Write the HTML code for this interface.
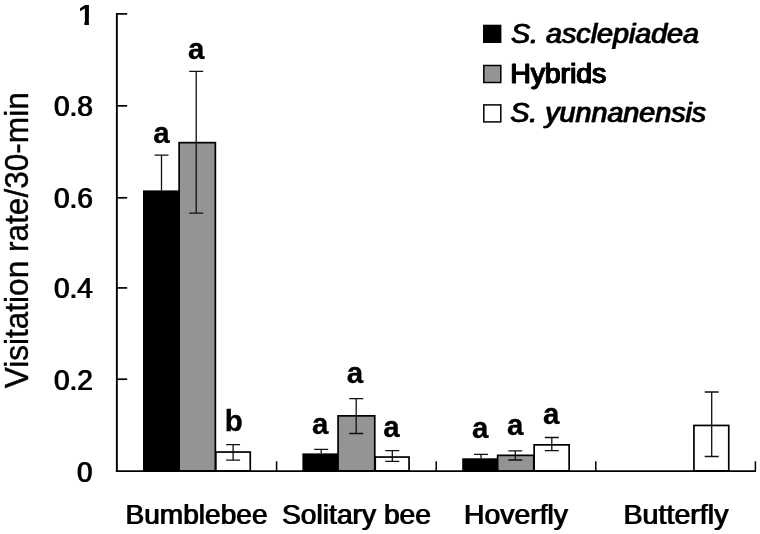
<!DOCTYPE html>
<html><head><meta charset="utf-8"><title>Visitation rate</title>
<style>
html,body{margin:0;padding:0;background:#fff;}
body{width:760px;height:534px;overflow:hidden;}
svg{display:block;}
text{font-family:"Liberation Sans",Arial,sans-serif;fill:#000;}
.t{font-size:29px;stroke:#000;stroke-width:0.12px;filter:url(#f0);}
.xl{font-size:28px;stroke:#000;stroke-width:0.1px;filter:url(#f0);}
.li{font-size:28.5px;stroke:#000;stroke-width:0.3px;filter:url(#f1);font-style:italic;}
.lg{font-size:28.5px;stroke:#000;stroke-width:0.5px;filter:url(#f2);}
.b{font-size:29.5px;font-weight:bold;stroke:#000;stroke-width:0.3px;}
.i{font-style:italic;}
.b1{font-size:29.5px;font-weight:bold;}
.e{stroke:#111;stroke-width:1.3;fill:none;}
</style></head><body>
<svg width="760" height="534" viewBox="0 0 760 534">
<defs>
<filter id="f0" x="-5%" y="-20%" width="110%" height="140%"><feOffset in="SourceGraphic" dx="0.55" dy="0" result="o"/><feMerge><feMergeNode in="SourceGraphic"/><feMergeNode in="o"/></feMerge></filter>
<filter id="f1" x="-5%" y="-20%" width="110%" height="140%"><feOffset in="SourceGraphic" dx="0.8" dy="0" result="o"/><feMerge><feMergeNode in="SourceGraphic"/><feMergeNode in="o"/></feMerge></filter>
<filter id="f2" x="-5%" y="-20%" width="110%" height="140%"><feOffset in="SourceGraphic" dx="0.7" dy="0" result="o"/><feOffset in="SourceGraphic" dx="1.4" dy="0" result="p"/><feMerge><feMergeNode in="SourceGraphic"/><feMergeNode in="o"/><feMergeNode in="p"/></feMerge></filter>
</defs>
<rect x="0" y="0" width="760" height="534" fill="#fff"/>
<rect x="143.0" y="190.4" width="36.0" height="280.6" fill="#000"/>
<rect x="179.15" y="142.65" width="36.20" height="328.35" fill="#949494" stroke="#000" stroke-width="1.7"/>
<rect x="215.85" y="452.05" width="34.40" height="18.95" fill="#fff" stroke="#000" stroke-width="1.7"/>
<rect x="302.4" y="453.4" width="35.6" height="17.6" fill="#000"/>
<rect x="338.05" y="415.85" width="36.70" height="55.15" fill="#949494" stroke="#000" stroke-width="1.7"/>
<rect x="375.25" y="457.05" width="33.80" height="13.95" fill="#fff" stroke="#000" stroke-width="1.7"/>
<rect x="462.2" y="458.3" width="35.8" height="12.7" fill="#000"/>
<rect x="497.65" y="455.35" width="36.10" height="15.65" fill="#949494" stroke="#000" stroke-width="1.7"/>
<rect x="534.15" y="444.85" width="35.00" height="26.15" fill="#fff" stroke="#000" stroke-width="1.7"/>
<rect x="693.95" y="425.45" width="34.80" height="45.55" fill="#fff" stroke="#000" stroke-width="1.7"/>
<path class="e" d="M154.5 155.2H168.5M161.5 155.2V190.5"/>
<path class="e" d="M189.2 71.4H203.2M196.2 71.4V213.1M189.2 213.1H203.2"/>
<path class="e" d="M226.1 444.6H240.1M233.1 444.6V460.1M226.1 460.1H240.1"/>
<path class="e" d="M314.2 449.4H328.2M321.2 449.4V453.5"/>
<path class="e" d="M349.2 398.6H363.2M356.2 398.6V433.5M349.2 433.5H363.2"/>
<path class="e" d="M385.3 450.6H399.3M392.3 450.6V461.3M385.3 461.3H399.3"/>
<path class="e" d="M474.0 454.3H488.0M481.0 454.3V458.4"/>
<path class="e" d="M508.29999999999995 450.8H522.3M515.3 450.8V460.0M508.29999999999995 460.0H522.3"/>
<path class="e" d="M544.8 437.5H558.8M551.8 437.5V450.6M544.8 450.6H558.8"/>
<path class="e" d="M704.7 392.0H718.7M711.7 392.0V456.5M704.7 456.5H718.7"/>
<path d="M116.85 13.1V471.5" stroke="#000" stroke-width="1.9" fill="none"/>
<path d="M115.9 471.15H756" stroke="#000" stroke-width="1.8" fill="none"/>
<path d="M117 13.90H127.2" stroke="#000" stroke-width="1.7" fill="none"/>
<path d="M117 105.85H127.2" stroke="#000" stroke-width="1.7" fill="none"/>
<path d="M117 197.80H127.2" stroke="#000" stroke-width="1.7" fill="none"/>
<path d="M117 287.90H127.2" stroke="#000" stroke-width="1.7" fill="none"/>
<path d="M117 379.20H127.2" stroke="#000" stroke-width="1.7" fill="none"/>
<path d="M276.6 461.3V471" stroke="#000" stroke-width="1.5" fill="none"/>
<path d="M436.2 461.3V471" stroke="#000" stroke-width="1.5" fill="none"/>
<path d="M595.8 461.3V471" stroke="#000" stroke-width="1.5" fill="none"/>
<path d="M755.4 461.3V471" stroke="#000" stroke-width="1.5" fill="none"/>
<clipPath id="c1"><rect x="70" y="0" width="30" height="19"/><rect x="84.4" y="18" width="4.5" height="8"/></clipPath>
<text class="b1" x="94.3" y="24.5" text-anchor="end" clip-path="url(#c1)">1</text>
<text class="t" x="53.4" y="116.1" textLength="39" lengthAdjust="spacingAndGlyphs">0.8</text>
<text class="t" x="53.4" y="207.5" textLength="39" lengthAdjust="spacingAndGlyphs">0.6</text>
<text class="t" x="53.4" y="297.5" textLength="39" lengthAdjust="spacingAndGlyphs">0.4</text>
<text class="t" x="53.4" y="389.5" textLength="39" lengthAdjust="spacingAndGlyphs">0.2</text>
<text class="t" x="76.6" y="481.5" textLength="15.5" lengthAdjust="spacingAndGlyphs">0</text>
<text class="xl" x="125.0" y="523.7" textLength="142" lengthAdjust="spacingAndGlyphs">Bumblebee</text>
<text class="xl" x="281.5" y="523.7" textLength="149" lengthAdjust="spacingAndGlyphs">Solitary bee</text>
<text class="xl" x="463.5" y="523.7" textLength="104" lengthAdjust="spacingAndGlyphs">Hoverfly</text>
<text class="xl" x="623.0" y="523.7" textLength="105" lengthAdjust="spacingAndGlyphs">Butterfly</text>
<rect x="483" y="24.7" width="18.4" height="18.3" fill="#000"/>
<rect x="483.8" y="65.5" width="17" height="17" fill="#949494" stroke="#000" stroke-width="1.5"/>
<rect x="483.8" y="104.9" width="17" height="17" fill="#fff" stroke="#000" stroke-width="1.5"/>
<text class="li" x="510.5" y="42.7" textLength="188" lengthAdjust="spacingAndGlyphs">S. asclepiadea</text>
<text class="lg" x="509.7" y="83.0" textLength="96" lengthAdjust="spacingAndGlyphs">Hybrids</text>
<text class="li" x="509.7" y="122.1" textLength="196" lengthAdjust="spacingAndGlyphs">S. yunnanensis</text>
<text class="b" x="161.4" y="142.6" text-anchor="middle">a</text>
<text class="b" x="196.1" y="59.0" text-anchor="middle">a</text>
<text class="b" x="233.8" y="431.2" text-anchor="middle">b</text>
<text class="b" x="320.2" y="433.5" text-anchor="middle">a</text>
<text class="b" x="355.0" y="382.9" text-anchor="middle">a</text>
<text class="b" x="391.5" y="436.9" text-anchor="middle">a</text>
<text class="b" x="480.2" y="438.2" text-anchor="middle">a</text>
<text class="b" x="515.1" y="434.5" text-anchor="middle">a</text>
<text class="b" x="551.3" y="424.4" text-anchor="middle">a</text>
<text class="yt" transform="translate(27.7 388.3) rotate(-90)" x="0" y="0" textLength="296" lengthAdjust="spacingAndGlyphs" style="font-size:33px;stroke:#000;stroke-width:0.4px">Visitation rate/30-min</text>
</svg></body></html>
